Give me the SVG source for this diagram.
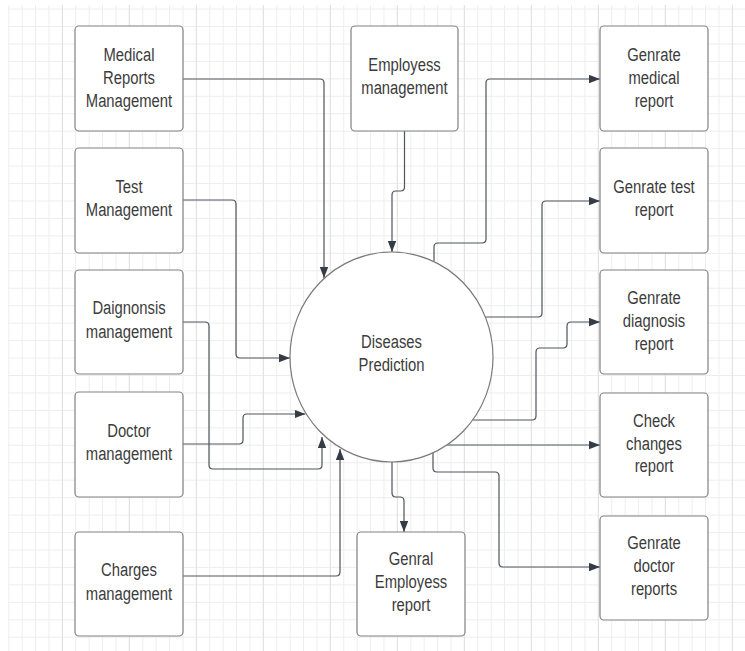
<svg xmlns="http://www.w3.org/2000/svg" width="745" height="651" viewBox="0 0 745 651">
<style>
.box{fill:#ffffff;stroke:#808080;stroke-width:1.2}
.t{font-family:"Liberation Sans",Arial,sans-serif;font-size:19px;fill:#3c3c3c;text-anchor:middle}
.c{fill:none;stroke:#4e545c;stroke-width:1.2;marker-end:url(#arr)}
.maj{stroke:#e0e0e0;stroke-width:1}
</style>
<defs>
<pattern id="grid" patternUnits="userSpaceOnUse" x="8.3" y="8.55" width="13.4" height="17.45">
<path d="M0.5,0 V17.45 M0,0.5 H13.4" fill="none" stroke="#ededed" stroke-width="1"/>
</pattern>
<marker id="arr" markerUnits="userSpaceOnUse" markerWidth="12" markerHeight="10" refX="11" refY="4.2" orient="auto">
<path d="M0,0 L11,4.2 L0,8.4 z" fill="#363c45"/>
</marker>
</defs>
<rect x="0" y="0" width="745" height="651" fill="#ffffff"/>
<rect x="8" y="5" width="737" height="646" fill="url(#grid)"/>
<g id="grid-major">
<path class="maj" d="M62.3,5V651 M129.3,5V651 M196.3,5V651 M263.3,5V651 M330.3,5V651 M397.3,5V651 M464.3,5V651 M531.3,5V651 M598.3,5V651 M665.3,5V651 M732.3,5V651"/>
</g>
<g id="connectors">
<path class="c" d="M183,79 H320 Q324,79 324,83 V278"/>
<path class="c" d="M183,200 H232 Q236,200 236,204 V354 Q236,358 240,358 H290"/>
<path class="c" d="M183,322 H205 Q209,322 209,326 V465 Q209,469 213,469 H318 Q322,469 322,465 V437"/>
<path class="c" d="M183,444 H239 Q243,444 243,440 V418 Q243,414 247,414 H305.5"/>
<path class="c" d="M183,576 H336 Q340,576 340,572 V449"/>
<path class="c" d="M404.5,131 V187 Q404.5,191 400.5,191 H396 Q392,191 392,195 V252"/>
<path class="c" d="M434,261 V247 Q434,243 438,243 H482 Q486,243 486,239 V83 Q486,79 490,79 H600"/>
<path class="c" d="M485,317 H538 Q542,317 542,313 V205 Q542,201 546,201 H600"/>
<path class="c" d="M473,420 H532 Q536,420 536,416 V352 Q536,348 540,348 H563 Q567,348 567,344 V326 Q567,322 571,322 H600"/>
<path class="c" d="M447,445 H600"/>
<path class="c" d="M433,453 V468 Q433,472 437,472 H495 Q499,472 499,476 V563 Q499,567 503,567 H600"/>
<path class="c" d="M392,462 V493 Q392,497 396,497 H400 Q404,497 404,501 V532"/>
</g>
<g id="n-center">
<ellipse cx="391.5" cy="357" rx="101.5" ry="105" fill="#ffffff" stroke="#7a7a7a" stroke-width="1.2"/>
<text class="t" transform="translate(391.5,0) scale(0.78,1)"><tspan x="0" y="348.5">Diseases</tspan><tspan x="0" y="371">Prediction</tspan></text>
</g>
<g id="n-medical-reports">
<rect class="box" x="75" y="26" width="108" height="105" rx="4"/>
<text class="t" transform="translate(129,0) scale(0.78,1)"><tspan x="0" y="61">Medical</tspan><tspan x="0" y="84">Reports</tspan><tspan x="0" y="107">Management</tspan></text>
</g>
<g id="n-test">
<rect class="box" x="75" y="148" width="108" height="105" rx="4"/>
<text class="t" transform="translate(129,0) scale(0.78,1)"><tspan x="0" y="193">Test</tspan><tspan x="0" y="216.5">Management</tspan></text>
</g>
<g id="n-diagnosis">
<rect class="box" x="75" y="270" width="108" height="104" rx="4"/>
<text class="t" transform="translate(129,0) scale(0.78,1)"><tspan x="0" y="314.5">Daignonsis</tspan><tspan x="0" y="338">management</tspan></text>
</g>
<g id="n-doctor">
<rect class="box" x="75" y="392" width="108" height="105" rx="4"/>
<text class="t" transform="translate(129,0) scale(0.78,1)"><tspan x="0" y="437">Doctor</tspan><tspan x="0" y="460.5">management</tspan></text>
</g>
<g id="n-charges">
<rect class="box" x="75" y="532" width="108" height="104" rx="4"/>
<text class="t" transform="translate(129,0) scale(0.78,1)"><tspan x="0" y="576.5">Charges</tspan><tspan x="0" y="600">management</tspan></text>
</g>
<g id="n-employees">
<rect class="box" x="351" y="26" width="107" height="105" rx="4"/>
<text class="t" transform="translate(404.5,0) scale(0.78,1)"><tspan x="0" y="71">Employess</tspan><tspan x="0" y="94.5">management</tspan></text>
</g>
<g id="n-general-employees-report">
<rect class="box" x="357" y="532" width="108" height="104" rx="4"/>
<text class="t" transform="translate(411,0) scale(0.78,1)"><tspan x="0" y="565">Genral</tspan><tspan x="0" y="588.5">Employess</tspan><tspan x="0" y="611">report</tspan></text>
</g>
<g id="n-gen-medical">
<rect class="box" x="600" y="26" width="108" height="105" rx="4"/>
<text class="t" transform="translate(654,0) scale(0.78,1)"><tspan x="0" y="61.5">Genrate</tspan><tspan x="0" y="84.5">medical</tspan><tspan x="0" y="107">report</tspan></text>
</g>
<g id="n-gen-test">
<rect class="box" x="600" y="148" width="108" height="105" rx="4"/>
<text class="t" transform="translate(654,0) scale(0.78,1)"><tspan x="0" y="193">Genrate test</tspan><tspan x="0" y="216.5">report</tspan></text>
</g>
<g id="n-gen-diagnosis">
<rect class="box" x="600" y="270" width="108" height="104" rx="4"/>
<text class="t" transform="translate(654,0) scale(0.78,1)"><tspan x="0" y="304">Genrate</tspan><tspan x="0" y="327">diagnosis</tspan><tspan x="0" y="350">report</tspan></text>
</g>
<g id="n-check-changes">
<rect class="box" x="600" y="393" width="108" height="104" rx="4"/>
<text class="t" transform="translate(654,0) scale(0.78,1)"><tspan x="0" y="427">Check</tspan><tspan x="0" y="450">changes</tspan><tspan x="0" y="472">report</tspan></text>
</g>
<g id="n-gen-doctor">
<rect class="box" x="600" y="516" width="108" height="104" rx="4"/>
<text class="t" transform="translate(654,0) scale(0.78,1)"><tspan x="0" y="549.5">Genrate</tspan><tspan x="0" y="572.5">doctor</tspan><tspan x="0" y="595">reports</tspan></text>
</g>
</svg>
